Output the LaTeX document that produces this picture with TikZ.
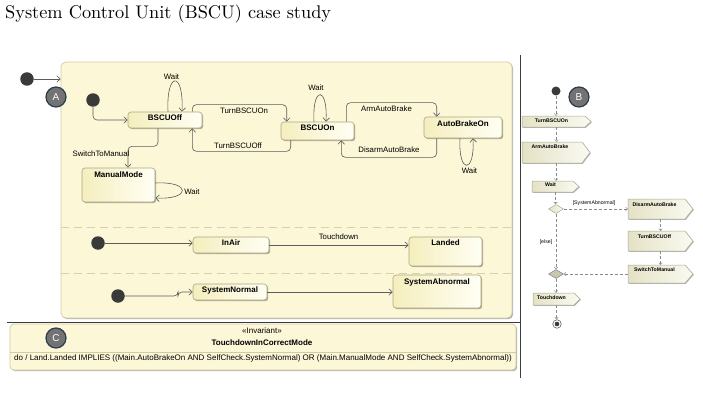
\documentclass[tikz,border=0pt]{standalone}
\usepackage{fontspec}
\newfontfamily\sansf{Liberation Sans}
\usetikzlibrary{arrows.meta,shadows,shapes.geometric}
\definecolor{framefill}{HTML}{FCF7D6}
\definecolor{frameline}{HTML}{CFCBA6}
\definecolor{stline}{HTML}{ABA781}
\definecolor{stleft}{HTML}{F5EEBE}
\definecolor{stright}{HTML}{FFFFF4}
\definecolor{dotcol}{HTML}{3A3A3A}
\definecolor{wire}{HTML}{5C5C5C}
\definecolor{tagfill}{HTML}{737373}
\definecolor{tagline}{HTML}{2C3D4D}
\definecolor{sigleft}{HTML}{E4E2C5}
\definecolor{sigright}{HTML}{FAFAF2}
\definecolor{sigline}{HTML}{ABA98F}
\definecolor{sepcol}{HTML}{D4D0B0}
\definecolor{rulecol}{HTML}{3C3C3C}
\definecolor{flowcol}{HTML}{8A8A8A}
\definecolor{mrgfill}{HTML}{C9C7AE}
\newcommand\stf{\sansf\bfseries\fontsize{8}{9.6}\selectfont}
\newcommand\lbf{\sansf\fontsize{7.8}{9.4}\selectfont}
\newcommand\sgf{\sansf\bfseries\fontsize{5.2}{6.2}\selectfont}
\newcommand\sgl{\sansf\fontsize{5.2}{6.2}\selectfont}
\newcommand\sigbox[8]{%
  \path[sigshape] (#2,#3) -- ({#4-#6},#3) -- (#4,{(#3+#5)/2}) -- ({#4-#6},#5) -- (#2,#5) -- cycle;
  \node[sigbound, minimum width={#4-#2}, minimum height={#5-#3}] (#1) at ({(#2+#4)/2},{(#3+#5)/2}) {};
  \node[sigtext] (#1-t) at ({(#2+#4-#6)/2-2},{#3+#8}) {#7};}
\begin{document}
\begin{tikzpicture}[x=1pt,y=-1pt,
  shadowed/.style={drop shadow={shadow xshift=1.2pt,shadow yshift=-1.2pt,opacity=0.3,fill=black}},
  framebox/.style={draw=frameline,line width=0.7pt,fill=framefill,rounded corners=5pt,shadowed,inner sep=0pt},
  stbox/.style={draw=stline,line width=0.6pt,rounded corners=3pt,left color=stleft,right color=stright,shadowed,inner sep=0pt},
  sttext/.style={font=\stf,anchor=north,inner sep=0pt},
  trans/.style={draw=wire,line width=0.6pt,rounded corners=4pt,-{Straight Barb[length=3.5pt,width=6.5pt,line width=0.6pt]}},
  loopt/.style={draw=wire,line width=0.6pt,-{Straight Barb[length=3.5pt,width=6.5pt,line width=0.6pt]}},
  lab/.style={font=\lbf,inner sep=0pt},
  initdot/.style={circle,fill=dotcol,minimum size=13.5pt,inner sep=0pt},
  tagc/.style={circle,fill=tagfill,draw=tagline,line width=1.2pt,minimum size=20pt,inner sep=0pt,text=white,font=\sansf\fontsize{10}{12}\selectfont},
  sigshape/.style={draw=sigline,line width=0.5pt,left color=sigleft,right color=sigright,drop shadow={shadow xshift=0.8pt,shadow yshift=-0.8pt,opacity=0.3,fill=black}},
  sigbound/.style={inner sep=0pt},
  sigtext/.style={font=\sgf,inner sep=0pt},
  flow/.style={draw=flowcol,line width=0.5pt,dash pattern=on 3pt off 2pt,-{Straight Barb[length=1.8pt,width=3.4pt,line width=0.5pt]}},
  gate/.style={diamond,draw=sigline,line width=0.5pt,left color=sigleft,right color=sigright,minimum width=15pt,minimum height=9pt,inner sep=0pt},
  mergegate/.style={diamond,draw=flowcol,line width=0.6pt,fill=mrgfill,minimum width=15pt,minimum height=9pt,inner sep=0pt},
  finalnode/.style={circle,draw=dotcol!80,line width=0.6pt,fill=white,minimum size=8.5pt,inner sep=0pt,path picture={\fill[dotcol] (path picture bounding box.center) circle (2.3pt);}},
]
\useasboundingbox (0,0) rectangle (703,409);
\node[anchor=base west,inner sep=0pt] (title) at (5,18.3) {\scalebox{1.83}{System Control Unit (BSCU) case study}};

% state machine frame
\node[framebox,minimum width=451pt,minimum height=256pt] (main) at (286.5,190) {};
\draw[sepcol,line width=0.8pt,dash pattern=on 8pt off 5pt] (main.west |- 0,227) -- (main.east |- 0,227);
\draw[sepcol,line width=0.8pt,dash pattern=on 8pt off 5pt] (main.west |- 0,273) -- (main.east |- 0,273);

% states
\node[stbox,minimum width=74pt,minimum height=16pt,label={[sttext,yshift=-2.5pt]north:BSCUOff}] (off) at (165,120) {};
\node[stbox,minimum width=73pt,minimum height=18pt,label={[sttext,yshift=-3.5pt]north:BSCUOn}] (on) at (317.5,131) {};
\node[stbox,minimum width=78pt,minimum height=21pt,label={[sttext,yshift=-4pt]north:AutoBrakeOn}] (abon) at (463,127.5) {};
\node[stbox,minimum width=73pt,minimum height=34pt,label={[sttext,yshift=-4pt]north:ManualMode}] (manual) at (118.5,185) {};
\node[stbox,minimum width=76pt,minimum height=16pt,label={[sttext,yshift=-3pt]north:InAir}] (inair) at (231,245) {};
\node[stbox,minimum width=73pt,minimum height=29pt,label={[sttext,yshift=-3pt]north:Landed}] (landed) at (445.5,251.5) {};
\node[stbox,minimum width=74pt,minimum height=16pt,label={[sttext,yshift=-3pt]north:SystemNormal}] (snormal) at (230,292) {};
\node[stbox,minimum width=88pt,minimum height=33pt,label={[sttext,yshift=-4pt]north:SystemAbnormal}] (sabn) at (437,291.5) {};

% initial pseudostates
\node[initdot] (i0) at (27,79) {};
\node[initdot] (i1) at (93,100) {};
\node[initdot] (i2) at (98,243) {};
\node[initdot] (i3) at (118,296) {};

% transitions
\draw[trans] (i0) -- (i0 -| main.west);
\draw[trans] (i1) |- (off.west);
\draw[trans] ([xshift=-10pt]off.north east) -- ++(0,-7) -| ([xshift=6pt]on.north west);
\draw[trans] ([xshift=10pt]on.south west) -- ++(0,11) -| ([xshift=-10pt]off.south east);
\draw[trans] ([xshift=-7pt]off.south) -- ++(0,18) -| ([xshift=9.5pt]manual.north);
\draw[trans] ([xshift=-8pt]on.north east) -- ++(0,-19) -| ([xshift=13pt]abon.north west);
\draw[trans] ([xshift=13pt]abon.south west) -- ++(0,19) -| ([xshift=-13pt]on.south east);
\draw[loopt] ([xshift=3pt]off.north) .. controls +(-2,-41) and +(2,-41) .. ([xshift=17pt]off.north);
\draw[loopt] ([xshift=-3.5pt]on.north) .. controls +(-2,-36) and +(2,-36) .. ([xshift=8.5pt]on.north);
\draw[loopt] ([xshift=-3pt]abon.south) .. controls +(-2,36) and +(2,36) .. ([xshift=10pt]abon.south);
\draw[loopt] ([yshift=2pt]manual.east) .. controls +(36,-2) and +(36,2) .. ([yshift=-13pt]manual.east);
\draw[trans] (i2) -- (i2 -| inair.west);
\draw[trans] (inair.east) -- (inair.east -| landed.west);
\draw[trans] (i3.east) -- ++(53,0) |- (snormal.west);
\draw[trans] (snormal.east) -- (snormal.east -| sabn.west);

% transition labels
\node[lab] (lw1) at (171.5,76.5) {Wait};
\node[lab] (lw2) at (316,88) {Wait};
\node[lab] (lw3) at (469.5,171) {Wait};
\node[lab] (lw4) at (192,191.5) {Wait};
\node[lab] (lton) at (244,111) {TurnBSCUOn};
\node[lab] (ltoff) at (238,146) {TurnBSCUOff};
\node[lab] (lsw) at (101,154) {SwitchToManual};
\node[lab] (larm) at (386.5,108.5) {ArmAutoBrake};
\node[lab] (ldis) at (389,150) {DisarmAutoBrake};
\node[lab] (ltd) at (338.5,237) {Touchdown};

% tags
\node[tagc] (tA) at (56,97) {A};

% separators
\draw[rulecol,line width=0.9pt] (7,322) -- (520,322);
\draw[rulecol,line width=0.9pt] (520,55) -- (520,378);

% invariant
\node[framebox,minimum width=506pt,minimum height=46pt,rounded corners=4pt] (inv) at (263,347) {};
\draw[frameline,line width=0.6pt] (inv.west |- 0,352) -- (inv.east |- 0,352);
\node[tagc] (tC) at (56,338) {C};
\node[font=\sansf\fontsize{8}{9.6}\selectfont,inner sep=0pt] (ster) at (262,331) {«Invariant»};
\node[font=\stf,inner sep=0pt] (iname) at (262,343) {TouchdownInCorrectMode};
\node[font=\sansf\fontsize{8}{9.6}\selectfont,inner sep=0pt,anchor=west] (ibody) at (14,358.5) {do / Land.Landed IMPLIES ((Main.AutoBrakeOn AND SelfCheck.SystemNormal) OR (Main.ManualMode AND SelfCheck.SystemAbnormal))};

% activity
\node[circle,fill=dotcol,minimum size=9pt,inner sep=0pt] (ai) at (556,91) {};
\node[tagc] (tB) at (579,97) {B};
\sigbox{s1}{522}{116}{591}{127}{6}{TurnBSCUOn}{5}
\sigbox{s2}{522}{142}{590}{163}{8}{ArmAutoBrake}{4.3}
\sigbox{s3}{532}{181}{579}{192}{6}{Wait}{3.8}
\node[gate] (dec) at (556,209) {};
\sigbox{s4}{628}{199}{693}{219}{8}{DisarmAutoBrake}{6}
\sigbox{s5}{628}{231}{693}{251}{8}{TurnBSCUOff}{6}
\sigbox{s6}{628}{265}{693}{283}{8}{SwitchToManual}{4.5}
\node[mergegate] (mrg) at (556,274) {};
\sigbox{s7}{533}{293}{580}{305}{6}{Touchdown}{5}
\node[finalnode] (fin) at (557,324) {};
\draw[flow] (ai) -- (ai |- s1.north);
\draw[flow] (s1.south) -- (s1.south |- s2.north);
\draw[flow] (s2.south) -- (s2.south |- s3.north);
\draw[flow] (s3.south) -- (s3.south |- dec.north);
\draw[flow] (dec.east) -- (dec.east -| s4.west);
\draw[flow] (s4.south) -- (s4.south |- s5.north);
\draw[flow] (s5.south) -- (s5.south |- s6.north);
\draw[flow] (s6.west) -- (s6.west -| mrg.east);
\draw[flow] (dec.south) -- (mrg.north);
\draw[flow] (mrg.south) -- (mrg.south |- s7.north);
\draw[flow] (s7.south) -- (s7.south |- fin.north);
\node[font=\sgl,inner sep=0pt] (lsa) at (594,203) {[SystemAbnormal]};
\node[font=\sgl,inner sep=0pt] (lel) at (546,242) {[else]};
\end{tikzpicture}
\end{document}
